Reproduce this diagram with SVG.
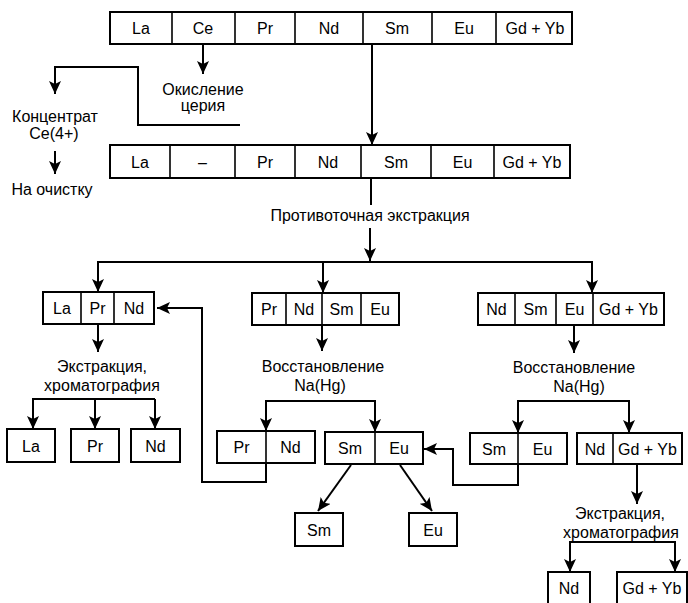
<svg xmlns="http://www.w3.org/2000/svg" width="688" height="603" viewBox="0 0 688 603">
<defs>
<style>
text{font-family:"Liberation Sans",Arial,sans-serif;font-size:16px;fill:#000;text-anchor:middle}
.box{fill:#fff;stroke:#000;stroke-width:2}
.div{stroke:#000;stroke-width:1.6}
.ln{fill:none;stroke:#000;stroke-width:2}
.ar{fill:none;stroke:#000;stroke-width:2;marker-end:url(#ah)}
</style>
<marker id="ah" markerUnits="userSpaceOnUse" markerWidth="13" markerHeight="12" refX="13" refY="6" orient="auto">
<path d="M0,0 L13,6 L0,12 L3,6 z" fill="#000"/>
</marker>
</defs>
<rect width="688" height="603" fill="#fff"/>

<g id="connectors">
<line class="ar" x1="203" y1="44" x2="203" y2="74"/>
<line class="ar" x1="372" y1="44" x2="372" y2="145"/>
<polyline class="ar" points="240,125 138,125 138,67 55,67 55,94"/>
<line class="ar" x1="55" y1="151" x2="55" y2="174"/>
<line class="ln" x1="371" y1="178" x2="371" y2="205"/>
<line class="ar" x1="370" y1="228" x2="370" y2="261"/>
<line class="ln" x1="97" y1="262" x2="593" y2="262"/>
<line class="ar" x1="98" y1="262" x2="98" y2="292"/>
<line class="ar" x1="323" y1="262" x2="323" y2="293"/>
<line class="ar" x1="592" y1="262" x2="592" y2="293"/>
<line class="ar" x1="98" y1="324" x2="98" y2="352"/>
<polyline class="ln" points="33,429 33,399 155,399"/>
<line class="ar" x1="33" y1="399" x2="33" y2="429"/>
<line class="ar" x1="95" y1="399" x2="95" y2="429"/>
<line class="ar" x1="155" y1="399" x2="155" y2="429"/>
<line class="ar" x1="322" y1="325" x2="322" y2="351"/>
<line class="ln" x1="265" y1="401" x2="376" y2="401"/>
<line class="ar" x1="266" y1="401" x2="266" y2="431"/>
<line class="ar" x1="375" y1="401" x2="375" y2="432"/>
<polyline class="ar" points="266,464 266,482 202,482 202,308 157,308"/>
<line class="ar" x1="351" y1="465" x2="318" y2="511"/>
<line class="ar" x1="400" y1="465" x2="432" y2="511"/>
<line class="ar" x1="574" y1="325" x2="574" y2="353"/>
<line class="ln" x1="517" y1="401" x2="630" y2="401"/>
<line class="ar" x1="518" y1="401" x2="518" y2="433"/>
<line class="ar" x1="629" y1="401" x2="629" y2="433"/>
<polyline class="ar" points="518,464 518,485 453,485 453,449 424,449"/>
<line class="ar" x1="637" y1="464" x2="637" y2="504"/>
<line class="ln" x1="569" y1="542" x2="676" y2="542"/>
<line class="ar" x1="570" y1="542" x2="570" y2="572"/>
<line class="ar" x1="675" y1="542" x2="675" y2="572"/>
</g>

<g id="row1">
<rect class="box" x="110" y="12" width="462" height="32"/>
<path class="div" d="M172,12V44M235,12V44M295,12V44M363,12V44M432,12V44M496,12V44"/>
<text x="141" y="34">La</text><text x="203" y="34">Ce</text><text x="265" y="34">Pr</text><text x="329" y="34">Nd</text><text x="397" y="34">Sm</text><text x="464" y="34">Eu</text><text x="535" y="34">Gd + Yb</text>
</g>

<g id="oxidation"><text x="203" y="95">Окисление</text><text x="203" y="111">церия</text></g>
<g id="concentrate"><text x="55" y="122">Концентрат</text><text x="54" y="139">Ce(4+)</text></g>
<g id="cleanup"><text x="52" y="195">На очистку</text></g>

<g id="row2">
<rect class="box" x="110" y="145" width="460" height="33"/>
<path class="div" d="M170,145V178M235,145V178M295,145V178M361,145V178M431,145V178M494,145V178"/>
<text x="140" y="168">La</text><text x="202.5" y="168">–</text><text x="265" y="168">Pr</text><text x="328" y="168">Nd</text><text x="396" y="168">Sm</text><text x="462.5" y="168">Eu</text><text x="532" y="168">Gd + Yb</text>
</g>

<g id="countercurrent"><text x="370" y="221">Противоточная экстракция</text></g>

<g id="laprnd">
<rect class="box" x="43" y="292" width="111" height="32"/>
<path class="div" d="M81,292V324M114,292V324"/>
<text x="62" y="314">La</text><text x="97.5" y="314">Pr</text><text x="134" y="314">Nd</text>
</g>
<g id="extraction1"><text x="102" y="372">Экстракция,</text><text x="102" y="391">хроматография</text></g>
<g id="la"><rect class="box" x="7" y="429" width="48" height="33"/><text x="31" y="452">La</text></g>
<g id="pr"><rect class="box" x="71" y="429" width="48" height="33"/><text x="95" y="452">Pr</text></g>
<g id="nd"><rect class="box" x="131" y="429" width="49" height="33"/><text x="155.5" y="452">Nd</text></g>

<g id="prndsmeu">
<rect class="box" x="252" y="293" width="147" height="32"/>
<path class="div" d="M286,293V325M322,293V325M361,293V325"/>
<text x="269" y="315">Pr</text><text x="304" y="315">Nd</text><text x="341.5" y="315">Sm</text><text x="380" y="315">Eu</text>
</g>
<g id="reduction1"><text x="323" y="372">Восстановление</text><text x="320" y="391">Na(Hg)</text></g>
<g id="prnd">
<rect class="box" x="217" y="431" width="98" height="32"/>
<path class="div" d="M266,431V463"/>
<text x="241.5" y="453">Pr</text><text x="290.5" y="453">Nd</text>
</g>
<g id="smeu1">
<rect class="box" x="325" y="432" width="98" height="32"/>
<path class="div" d="M375,432V464"/>
<text x="350" y="454">Sm</text><text x="399" y="454">Eu</text>
</g>
<g id="sm"><rect class="box" x="295" y="513" width="48" height="33"/><text x="319" y="536">Sm</text></g>
<g id="eu"><rect class="box" x="409" y="513" width="48" height="33"/><text x="433" y="536">Eu</text></g>

<g id="ndsmeugdyb">
<rect class="box" x="478" y="293" width="186" height="32"/>
<path class="div" d="M515,293V325M556,293V325M593,293V325"/>
<text x="496.5" y="315">Nd</text><text x="535.5" y="315">Sm</text><text x="574.5" y="315">Eu</text><text x="628.5" y="315">Gd + Yb</text>
</g>
<g id="reduction2"><text x="574" y="373">Восстановление</text><text x="579" y="392">Na(Hg)</text></g>
<g id="smeu2">
<rect class="box" x="470" y="433" width="97" height="31"/>
<path class="div" d="M518,433V464"/>
<text x="494" y="455">Sm</text><text x="542.5" y="455">Eu</text>
</g>
<g id="ndgdyb">
<rect class="box" x="577" y="433" width="105" height="31"/>
<path class="div" d="M613,433V464"/>
<text x="595" y="455">Nd</text><text x="647.5" y="455">Gd + Yb</text>
</g>
<g id="extraction2"><text x="620" y="519">Экстракция,</text><text x="621" y="538">хроматография</text></g>
<g id="nd2"><rect class="box" x="548" y="572" width="42" height="36"/><text x="569" y="594">Nd</text></g>
<g id="gdyb2"><rect class="box" x="617" y="572" width="70" height="36"/><text x="652" y="594">Gd + Yb</text></g>
</svg>
